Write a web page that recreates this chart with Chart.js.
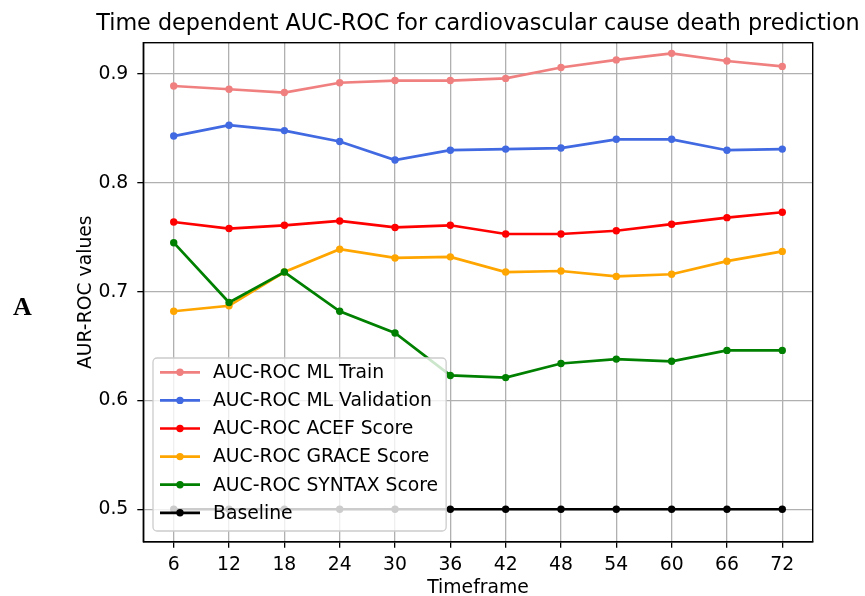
<!DOCTYPE html>
<html>
<head>
<meta charset="utf-8">
<script src="https://cdn.jsdelivr.net/npm/chart.js@4"></script>
<style>
  html, body { margin: 0; padding: 0; background: #fff; }
  #wrap { position: relative; width: 865px; height: 596px; }
  #panel { position: absolute; left: 13px; top: 294px; font: bold 26px "Liberation Serif", serif; line-height: 26px; color: #000; }
</style>
</head>
<body>
<div id="wrap">
  <canvas id="aucChart" width="865" height="596"></canvas>
  <div id="panel">A</div>
</div>
<script>
  // Data
  const timeframes = [6, 12, 18, 24, 30, 36, 42, 48, 54, 60, 66, 72];
  const yTicks = [0.5, 0.6, 0.7, 0.8, 0.9];
  const mlTrain = [0.889, 0.886, 0.883, 0.892, 0.894, 0.894, 0.896, 0.906, 0.913, 0.919, 0.912, 0.907];
  const mlValidation = [0.843, 0.853, 0.848, 0.838, 0.821, 0.830, 0.831, 0.832, 0.840, 0.840, 0.830, 0.831];
  const acefScore = [0.764, 0.758, 0.761, 0.765, 0.759, 0.761, 0.753, 0.753, 0.756, 0.762, 0.768, 0.773];
  const graceScore = [0.682, 0.687, 0.718, 0.739, 0.731, 0.732, 0.718, 0.719, 0.714, 0.716, 0.728, 0.737];
  const syntaxScore = [0.745, 0.690, 0.718, 0.682, 0.662, 0.623, 0.621, 0.634, 0.638, 0.636, 0.646, 0.646];
  const baseline = [0.5, 0.5, 0.5, 0.5, 0.5, 0.5, 0.5, 0.5, 0.5, 0.5, 0.5, 0.5];

  const FONT = '"DejaVu Sans", sans-serif';
  const FS = 18.8;

  const series = [
    { label: 'AUC-ROC ML Train', data: mlTrain, color: '#f08080' },
    { label: 'AUC-ROC ML Validation', data: mlValidation, color: '#4169e1' },
    { label: 'AUC-ROC ACEF Score', data: acefScore, color: '#ff0000' },
    { label: 'AUC-ROC GRACE Score', data: graceScore, color: '#ffa500' },
    { label: 'AUC-ROC SYNTAX Score', data: syntaxScore, color: '#008000' },
    { label: 'Baseline', data: baseline, color: '#000000' }
  ];

  const datasets = series.map((s, i) => ({
    label: s.label,
    data: s.data.map((v, j) => ({ x: timeframes[j], y: v })),
    borderColor: s.color,
    backgroundColor: s.color,
    pointBackgroundColor: s.color,
    pointBorderWidth: 0,
    pointRadius: 3.7,
    borderWidth: 2.7,
    tension: 0,
    order: series.length - i
  }));

  // title, frame and matplotlib-style legend
  const decor = {
    id: 'decor',
    afterDatasetsDraw(chart) {
      const ctx = chart.ctx;
      const area = chart.chartArea;
      ctx.save();
      ctx.font = FS + 'px ' + FONT;
      let maxW = 0;
      series.forEach(s => { maxW = Math.max(maxW, ctx.measureText(s.label).width); });
      const bx = area.left + 9.7;
      const bottom = area.bottom - 10.7;
      const rowH = 28.1;
      const bh = 173;
      const by = bottom - bh;
      const bw = 60 + maxW + 8;
      ctx.beginPath();
      ctx.roundRect(bx, by, bw, bh, 4);
      ctx.fillStyle = 'rgba(255,255,255,0.8)';
      ctx.fill();
      ctx.strokeStyle = '#cccccc';
      ctx.lineWidth = 1.3;
      ctx.stroke();
      series.forEach((s, i) => {
        const ry = by + 14.3 + i * rowH;
        ctx.strokeStyle = s.color;
        ctx.lineWidth = 2.7;
        ctx.beginPath();
        ctx.moveTo(bx + 7, ry);
        ctx.lineTo(bx + 47, ry);
        ctx.stroke();
        ctx.fillStyle = s.color;
        ctx.beginPath();
        ctx.arc(bx + 27, ry, 3.7, 0, Math.PI * 2);
        ctx.fill();
        ctx.fillStyle = '#000';
        ctx.textAlign = 'left';
        ctx.textBaseline = 'middle';
        ctx.fillText(s.label, bx + 60, ry + 1);
      });
      ctx.restore();
    },
    afterDraw(chart) {
      const ctx = chart.ctx;
      const a = chart.chartArea;
      ctx.save();
      ctx.strokeStyle = '#000';
      ctx.lineWidth = 1.4;
      ctx.strokeRect(a.left, a.top, a.right - a.left, a.bottom - a.top);
      ctx.fillStyle = '#000';
      ctx.font = '22.3px ' + FONT;
      ctx.textAlign = 'center';
      ctx.textBaseline = 'alphabetic';
      ctx.fillText('Time dependent AUC-ROC for cardiovascular cause death prediction', (a.left + a.right) / 2, 30);
      ctx.restore();
    }
  };

  new Chart(document.getElementById('aucChart'), {
    type: 'line',
    data: { datasets },
    plugins: [decor],
    options: {
      responsive: false,
      animation: false,
      devicePixelRatio: 1,
      layout: { padding: { top: 42.7, right: 52.3, left: 0, bottom: 0 } },
      plugins: { legend: { display: false }, tooltip: { enabled: false } },
      scales: {
        x: {
          type: 'linear',
          min: 2.7,
          max: 75.3,
          afterBuildTicks: s => { s.ticks = timeframes.map(v => ({ value: v })); },
          afterFit: s => { s.height = 54.3; },
          ticks: { color: '#000', font: { family: FONT, size: FS }, padding: 6.5, maxRotation: 0, autoSkip: false },
          grid: { color: '#b0b0b0', lineWidth: 1.3, tickColor: '#000', tickLength: 6, tickWidth: 1.3 },
          border: { display: true, color: '#000', width: 1.4 },
          title: { display: true, text: 'Timeframe', color: '#000', font: { family: FONT, size: FS, lineHeight: 1.2 }, padding: { top: 0, bottom: -3.2 } }
        },
        y: {
          min: 0.4702,
          max: 0.9288,
          afterBuildTicks: s => { s.ticks = yTicks.map(v => ({ value: v })); },
          afterFit: s => { s.width = 143.3; },
          ticks: { color: '#000', font: { family: FONT, size: FS }, padding: 9, callback: v => v.toFixed(1) },
          grid: { color: '#b0b0b0', lineWidth: 1.3, tickColor: '#000', tickLength: 6, tickWidth: 1.3 },
          border: { display: true, color: '#000', width: 1.4 },
          title: { display: true, text: 'AUR-ROC values', color: '#000', font: { family: FONT, size: FS, lineHeight: 1.2 }, padding: { top: 74.5, bottom: 0 } }
        }
      }
    }
  });
</script>
</body>
</html>
